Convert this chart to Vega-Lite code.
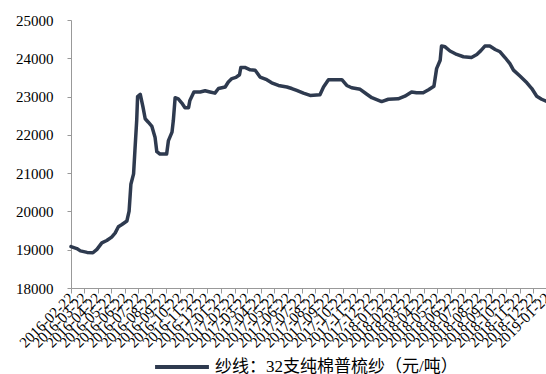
{
  "$schema": "https://vega.github.io/schema/vega-lite/v6.json",
  "autosize": {"type": "none"},
  "padding": {"left": 71, "top": 20, "right": 0, "bottom": 86},
  "width": 476,
  "height": 268,
  "background": "white",
  "config": {"view": {"stroke": null}},
  "data": {"values": [
    {"date": "2016-02-22", "value": 19080},
    {"date": "2016-03-06", "value": 19030},
    {"date": "2016-03-14", "value": 18970},
    {"date": "2016-03-29", "value": 18930},
    {"date": "2016-04-11", "value": 18920},
    {"date": "2016-04-20", "value": 19010},
    {"date": "2016-05-01", "value": 19180},
    {"date": "2016-05-12", "value": 19240},
    {"date": "2016-05-23", "value": 19330},
    {"date": "2016-05-31", "value": 19440},
    {"date": "2016-06-07", "value": 19600},
    {"date": "2016-06-15", "value": 19660},
    {"date": "2016-06-26", "value": 19750},
    {"date": "2016-07-01", "value": 20010},
    {"date": "2016-07-05", "value": 20710},
    {"date": "2016-07-11", "value": 20980},
    {"date": "2016-07-14", "value": 21590},
    {"date": "2016-07-18", "value": 22380},
    {"date": "2016-07-20", "value": 23000},
    {"date": "2016-07-26", "value": 23060},
    {"date": "2016-08-01", "value": 22730},
    {"date": "2016-08-06", "value": 22420},
    {"date": "2016-08-13", "value": 22330},
    {"date": "2016-08-21", "value": 22220},
    {"date": "2016-08-28", "value": 21940},
    {"date": "2016-09-01", "value": 21560},
    {"date": "2016-09-08", "value": 21500},
    {"date": "2016-09-23", "value": 21500},
    {"date": "2016-09-27", "value": 21850},
    {"date": "2016-10-05", "value": 22070},
    {"date": "2016-10-08", "value": 22380},
    {"date": "2016-10-12", "value": 22970},
    {"date": "2016-10-19", "value": 22940},
    {"date": "2016-10-27", "value": 22830},
    {"date": "2016-11-03", "value": 22710},
    {"date": "2016-11-11", "value": 22710},
    {"date": "2016-11-14", "value": 22900},
    {"date": "2016-11-23", "value": 23120},
    {"date": "2016-12-07", "value": 23120},
    {"date": "2016-12-18", "value": 23150},
    {"date": "2016-12-29", "value": 23120},
    {"date": "2017-01-09", "value": 23090},
    {"date": "2017-01-17", "value": 23210},
    {"date": "2017-02-01", "value": 23250},
    {"date": "2017-02-08", "value": 23380},
    {"date": "2017-02-16", "value": 23470},
    {"date": "2017-02-25", "value": 23500},
    {"date": "2017-03-05", "value": 23570},
    {"date": "2017-03-08", "value": 23760},
    {"date": "2017-03-17", "value": 23760},
    {"date": "2017-03-29", "value": 23700},
    {"date": "2017-04-09", "value": 23690},
    {"date": "2017-04-20", "value": 23510},
    {"date": "2017-05-05", "value": 23440},
    {"date": "2017-05-16", "value": 23360},
    {"date": "2017-05-31", "value": 23290},
    {"date": "2017-06-19", "value": 23250},
    {"date": "2017-06-30", "value": 23210},
    {"date": "2017-07-11", "value": 23160},
    {"date": "2017-07-26", "value": 23090},
    {"date": "2017-08-10", "value": 23030},
    {"date": "2017-09-01", "value": 23050},
    {"date": "2017-09-09", "value": 23250},
    {"date": "2017-09-20", "value": 23440},
    {"date": "2017-10-05", "value": 23440},
    {"date": "2017-10-20", "value": 23440},
    {"date": "2017-10-31", "value": 23290},
    {"date": "2017-11-11", "value": 23230},
    {"date": "2017-11-30", "value": 23190},
    {"date": "2017-12-15", "value": 23060},
    {"date": "2017-12-26", "value": 22970},
    {"date": "2018-01-06", "value": 22920},
    {"date": "2018-01-17", "value": 22870},
    {"date": "2018-02-01", "value": 22930},
    {"date": "2018-02-23", "value": 22940},
    {"date": "2018-03-10", "value": 23010},
    {"date": "2018-03-25", "value": 23120},
    {"date": "2018-04-05", "value": 23100},
    {"date": "2018-04-20", "value": 23100},
    {"date": "2018-05-02", "value": 23180},
    {"date": "2018-05-14", "value": 23270},
    {"date": "2018-05-20", "value": 23730},
    {"date": "2018-05-28", "value": 23950},
    {"date": "2018-05-31", "value": 24320},
    {"date": "2018-06-08", "value": 24300},
    {"date": "2018-06-19", "value": 24190},
    {"date": "2018-07-04", "value": 24100},
    {"date": "2018-07-19", "value": 24040},
    {"date": "2018-08-06", "value": 24020},
    {"date": "2018-08-18", "value": 24100},
    {"date": "2018-08-27", "value": 24200},
    {"date": "2018-09-05", "value": 24320},
    {"date": "2018-09-16", "value": 24320},
    {"date": "2018-09-28", "value": 24230},
    {"date": "2018-10-09", "value": 24170},
    {"date": "2018-10-20", "value": 24020},
    {"date": "2018-10-31", "value": 23860},
    {"date": "2018-11-08", "value": 23690},
    {"date": "2018-11-23", "value": 23530},
    {"date": "2018-12-08", "value": 23360},
    {"date": "2018-12-19", "value": 23210},
    {"date": "2018-12-30", "value": 23010},
    {"date": "2019-01-10", "value": 22930},
    {"date": "2019-01-20", "value": 22880}
  ]},
  "mark": {"type": "line", "strokeWidth": 3.5, "strokeJoin": "round", "strokeCap": "round"},
  "encoding": {
    "x": {
      "field": "date",
      "type": "temporal",
      "scale": {
        "type": "utc",
        "domain": [
          {"year": 2016, "month": 2, "date": 22, "utc": true},
          {"year": 2019, "month": 1, "date": 22, "utc": true}
        ]
      },
      "axis": {
        "title": null,
        "grid": false,
        "format": "%Y-%m-%d",
        "values": [
          {"year": 2016, "month": 2, "date": 22, "utc": true},
          {"year": 2016, "month": 3, "date": 22, "utc": true},
          {"year": 2016, "month": 4, "date": 22, "utc": true},
          {"year": 2016, "month": 5, "date": 22, "utc": true},
          {"year": 2016, "month": 6, "date": 22, "utc": true},
          {"year": 2016, "month": 7, "date": 22, "utc": true},
          {"year": 2016, "month": 8, "date": 22, "utc": true},
          {"year": 2016, "month": 9, "date": 22, "utc": true},
          {"year": 2016, "month": 10, "date": 22, "utc": true},
          {"year": 2016, "month": 11, "date": 22, "utc": true},
          {"year": 2016, "month": 12, "date": 22, "utc": true},
          {"year": 2017, "month": 1, "date": 22, "utc": true},
          {"year": 2017, "month": 2, "date": 22, "utc": true},
          {"year": 2017, "month": 3, "date": 22, "utc": true},
          {"year": 2017, "month": 4, "date": 22, "utc": true},
          {"year": 2017, "month": 5, "date": 22, "utc": true},
          {"year": 2017, "month": 6, "date": 22, "utc": true},
          {"year": 2017, "month": 7, "date": 22, "utc": true},
          {"year": 2017, "month": 8, "date": 22, "utc": true},
          {"year": 2017, "month": 9, "date": 22, "utc": true},
          {"year": 2017, "month": 10, "date": 22, "utc": true},
          {"year": 2017, "month": 11, "date": 22, "utc": true},
          {"year": 2017, "month": 12, "date": 22, "utc": true},
          {"year": 2018, "month": 1, "date": 22, "utc": true},
          {"year": 2018, "month": 2, "date": 22, "utc": true},
          {"year": 2018, "month": 3, "date": 22, "utc": true},
          {"year": 2018, "month": 4, "date": 22, "utc": true},
          {"year": 2018, "month": 5, "date": 22, "utc": true},
          {"year": 2018, "month": 6, "date": 22, "utc": true},
          {"year": 2018, "month": 7, "date": 22, "utc": true},
          {"year": 2018, "month": 8, "date": 22, "utc": true},
          {"year": 2018, "month": 9, "date": 22, "utc": true},
          {"year": 2018, "month": 10, "date": 22, "utc": true},
          {"year": 2018, "month": 11, "date": 22, "utc": true},
          {"year": 2018, "month": 12, "date": 22, "utc": true},
          {"year": 2019, "month": 1, "date": 22, "utc": true}
        ],
        "labelAngle": -45,
        "labelAlign": "right",
        "labelBaseline": "middle",
        "labelOverlap": false,
        "labelFlush": false,
        "labelBound": false,
        "labelFont": "Liberation Serif",
        "labelFontSize": 15,
        "labelColor": "#000000",
        "labelPadding": 2,
        "domainColor": "#999999",
        "domainWidth": 1,
        "tickColor": "#999999",
        "tickSize": 5,
        "tickWidth": 1
      }
    },
    "y": {
      "field": "value",
      "type": "quantitative",
      "scale": {"domain": [18000, 25000], "nice": false, "zero": false},
      "axis": {
        "title": null,
        "grid": false,
        "values": [18000, 19000, 20000, 21000, 22000, 23000, 24000, 25000],
        "format": "d",
        "labelFont": "Liberation Serif",
        "labelFontSize": 15,
        "labelColor": "#000000",
        "labelPadding": 14,
        "domainColor": "#999999",
        "domainWidth": 1,
        "tickColor": "#999999",
        "tickSize": 4,
        "tickWidth": 1
      }
    },
    "color": {
      "datum": "纱线：32支纯棉普梳纱（元/吨）",
      "type": "nominal",
      "scale": {"range": ["#2E3A4F"]},
      "legend": {
        "title": null,
        "orient": "none",
        "legendX": 82,
        "legendY": 318,
        "padding": 0,
        "symbolType": "stroke",
        "symbolSize": 2900,
        "symbolStrokeWidth": 4,
        "labelFont": "Liberation Serif, Noto Sans CJK SC",
        "labelFontSize": 17,
        "labelColor": "#000000",
        "labelOffset": 4,
        "labelLimit": 400
      }
    }
  }
}
